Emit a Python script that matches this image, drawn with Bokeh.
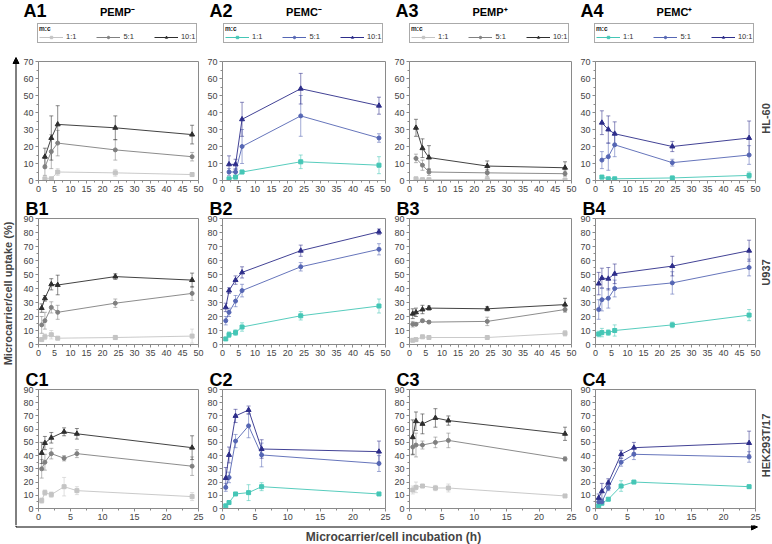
import math
from bokeh.plotting import figure
from bokeh.layouts import row, column
from bokeh.models import (Range1d, FixedTicker, Label, Legend, LegendItem, Whisker,
                          TeeHead, ColumnDataSource, Arrow, NormalHead)
from bokeh.embed import file_html
from bokeh.resources import INLINE

FONT = "Liberation Sans"
NAN = float("nan")

# ---------------- data ----------------
RATIOS = ["1:1", "5:1", "10:1"]
COLUMN_TITLES = ["PEMP\u207b", "PEMC\u207b", "PEMP\u207a", "PEMC\u207a"]
CELL_LINES = ["HL-60", "U937", "HEK293T/17"]
PANEL_LABELS = [["A1", "A2", "A3", "A4"], ["B1", "B2", "B3", "B4"], ["C1", "C2", "C3", "C4"]]

X_HL60 = [2, 4, 6, 24, 48]
X_U937 = [1, 2, 4, 6, 24, 48]
X_HEK = [0.5, 1, 2, 4, 6, 24]

X_TICKS_48 = [0, 5, 10, 15, 20, 25, 30, 35, 40, 45, 50]
X_TICKS_24 = [0, 5, 10, 15, 20, 25]
Y_TICKS_70 = [0, 10, 20, 30, 40, 50, 60, 70]
Y_TICKS_90 = [0, 10, 20, 30, 40, 50, 60, 70, 80, 90]

# HL-60 (row A): rows = 1:1, 5:1, 10:1
A1_MEAN = [[1, 1, 5, 4.5, 3.5], [8, 17, 22, 18, 14], [14, 25, 33, 31, 27]]
A1_SD = [[0.5, 0.5, 2, 2, 1], [5, 10, 7.5, 6, 2.5], [5, 13, 11, 7, 5.5]]
A2_MEAN = [[1, 2, 5, 11, 9], [5, 5, 20, 38, 25], [9.5, 9.5, 36, 54, 44]]
A2_SD = [[0.5, 1, 1, 4, 5], [2, 2, 10, 12, 2.5], [5, 3, 10, 9, 5]]
A3_MEAN = [[1, 0.5, 0.5, 0.5, 0.3], [13, 9, 5, 4.5, 4], [31, 19, 13.5, 8.5, 7.5]]
A3_SD = [[0.5, 0.3, 0.3, 0.3, 0.3], [2.5, 3, 2, 2, 1.5], [5, 5.5, 7, 3, 3.5]]
A4_MEAN = [[2, 1, 1, 1.5, 3], [12, 14, 21, 10.5, 15], [34, 30, 27.5, 20, 25]]
A4_SD = [[1, 0.5, 0.5, 1, 2], [5, 8, 7, 2, 5.5], [7, 8, 7, 3, 10]]

# U937 (row B)
B1_MEAN = [[3.5, 5.5, 7, 4.5, 5, 6], [14, 17, 26.5, 23, 29.5, 36.5], [26, 33, 43, 42.5, 48.5, 46]]
B1_SD = [[1, 2, 3, 1, 1.5, 5], [6, 6, 4, 5, 3, 5], [3, 2, 4, 7, 2, 5]]
B2_MEAN = [[4, 7, 8.5, 12.5, 20.5, 27.5], [17, 23, 31, 38.5, 55.5, 68], [26.5, 38.5, 46, 51.5, 67, 80.5]]
B2_SD = [[1, 2, 2, 3, 3, 5], [3, 3, 4, 4.5, 3, 4], [3, 2, 3, 4, 4, 2]]
B3_MEAN = [[3, 3.5, 5.5, 5, 5, 8], [14.5, 14.5, 17, 16, 16.5, 25], [22, 23, 25, 26, 25.5, 28.5]]
B3_SD = [[1, 1, 1, 1, 1, 2], [2, 1, 1, 1, 3, 2], [3.5, 3, 3, 1.5, 1.5, 4.5]]
B4_MEAN = [[7.5, 8.5, 8.5, 10, 14, 21], [25, 32, 33, 40, 44, 55], [43.5, 47.5, 47, 50.5, 56, 67]]
B4_SD = [[2, 3, 2, 4, 2, 4], [7, 8, 7, 6, 8, 6], [8, 7, 8, 7, 7, 7.5]]

# HEK293T/17 (row C)
C1_MEAN = [[6, 12, 10.5, 16.5, 13.5, 9], [30, 35, 41.5, 38, 41.5, 32], [42, 49.5, 53.5, 58, 56.5, 46]]
C1_SD = [[2, 2, 2, 7, 3, 3], [7, 6, 4, 2, 3, 7], [8, 5, 4, 3, 4, 9]]
C2_MEAN = [[2, 4.5, 11, 12, 16.5, 11], [16, 23.5, 51, 62.5, 40.5, 34], [23, 40.5, 70, 74.5, 45, 43]]
C2_SD = [[1, 1, 1, 6, 3, 1], [3, 4, 5, 9, 9, 6], [8, 6, 5, 3, 7, 8]]
C3_MEAN = [[14, 16, 17, 15.5, 15.5, 9.5], [46.5, 48, 48, 50, 51.5, 37.5], [54, 66, 64, 68.5, 66.5, 56.5]]
C3_SD = [[3, 4, 1, 2, 3, 1], [6, 9, 3, 4, 5.5, 1.5], [13, 7, 7.5, 7, 3.5, 5]]
C4_MEAN = [[2, 4, 7, 17, 20, 16.5], [5, 5, 15.5, 35, 41, 39], [8, 13, 19.5, 41, 46, 49.5]]
C4_SD = [[1, 1, 1, 4, 1, 1], [2, 2, 2, 3, 4, 4], [3, 6, 3, 3, 4, 9]]

# ---------------- styles / geometry ----------------
PEMP_COLORS = ["#c4c4c4", "#808080", "#2e2e2e"]
PEMC_COLORS = ["#45c6b6", "#5566b4", "#2d2d8a"]
MARKERS = ["square", "circle", "triangle"]
MARKER_SIZES = [4, 4, 5]

LEFT_W = 20
RIGHT_W = 11
COL_W = [184, 187, 186, 184]
LB = [16, 18, 17, 16]
RB = 6
GRID_W = sum(COL_W)          # 741
HEAD_H = 55
ROW_H = [141, 164, 165]
TB = [6, 21, 29]
BB = [16, 16, 17]
BOTTOM_H = 19
MAIN_H = HEAD_H + sum(ROW_H)  # 525


def colors_for(c):
    return PEMC_COLORS if c in (1, 3) else PEMP_COLORS


def make_panel(r, c, xs, means, sds, xmax, xticks, ymax, yticks):
    colors = colors_for(c)
    p = figure(width=COL_W[c], height=ROW_H[r],
               x_range=Range1d(0, xmax), y_range=Range1d(0, ymax),
               toolbar_location=None, output_backend="svg",
               min_border_left=LB[c], min_border_right=RB,
               min_border_top=TB[r], min_border_bottom=BB[r])
    if r > 0:
        p.title.text = PANEL_LABELS[r][c]
        p.title.align = "left"
        p.title.offset = -13
        p.title.standoff = 0
        p.title.text_font = FONT
        p.title.text_font_size = "18px"
        p.title.text_font_style = "bold"
        p.title.text_color = "black"
    p.grid.visible = False
    p.outline_line_color = "#8a8a8a"
    p.background_fill_color = "white"
    p.border_fill_color = "white"
    step = xticks[1] - xticks[0]
    p.xaxis.ticker = FixedTicker(ticks=xticks,
                                 minor_ticks=[t + step / 2 for t in xticks[:-1]])
    p.yaxis.ticker = FixedTicker(ticks=yticks,
                                 minor_ticks=[t + 5 for t in yticks[:-1]])
    for ax in (p.xaxis, p.yaxis):
        ax.axis_line_color = "#8a8a8a"
        ax.major_tick_line_color = "#8a8a8a"
        ax.minor_tick_line_color = "#8a8a8a"
        ax.major_tick_in = 0
        ax.major_tick_out = 3
        ax.minor_tick_in = 0
        ax.minor_tick_out = 2
        ax.major_label_standoff = 2
        ax.major_label_text_font = FONT
        ax.major_label_text_font_size = "9px"
        ax.major_label_text_color = "#444444"

    for i in range(3):
        y = means[i]
        e = sds[i]
        src = ColumnDataSource(dict(x=xs, y=y,
                                    lo=[max(0, a - b) for a, b in zip(y, e)],
                                    hi=[a + b for a, b in zip(y, e)]))
        col = colors[i]
        p.add_layout(Whisker(source=src, base="x", lower="lo", upper="hi",
                             line_color=col, line_alpha=0.55, line_width=1,
                             upper_head=TeeHead(size=4, line_color=col, line_alpha=0.55),
                             lower_head=TeeHead(size=4, line_color=col, line_alpha=0.55)))
        p.line("x", "y", source=src, line_color=col, line_width=1, line_alpha=0.9)
        p.scatter("x", "y", source=src, marker=MARKERS[i], size=MARKER_SIZES[i],
                  fill_color=col, line_color=col)
    return p


def strip(w, h):
    f = figure(width=w, height=h, x_range=Range1d(0, w), y_range=Range1d(0, h),
               toolbar_location=None, output_backend="svg",
               x_axis_location=None, y_axis_location=None, min_border=0)
    f.grid.visible = False
    f.outline_line_color = None
    f.background_fill_color = "white"
    f.border_fill_color = "white"
    return f


FRAME_LEFT = []
acc = 0
for c in range(4):
    FRAME_LEFT.append(acc + LB[c])
    acc += COL_W[c]
FRAME_W = [COL_W[c] - LB[c] - RB for c in range(4)]

# header strip above row A: panel labels, column titles, legends
head = strip(GRID_W, HEAD_H)
for c in range(4):
    head.add_layout(Label(x=FRAME_LEFT[c] - 13, y=HEAD_H - 10.5, text=PANEL_LABELS[0][c],
                          text_font=FONT, text_font_size="18px", text_font_style="bold",
                          text_color="black", text_baseline="middle"))
    head.add_layout(Label(x=FRAME_LEFT[c] + FRAME_W[c] / 2, y=HEAD_H - 11, text=COLUMN_TITLES[c],
                          text_font=FONT, text_font_size="11px", text_font_style="bold",
                          text_color="black", text_align="center", text_baseline="middle"))
    colors = colors_for(c)
    items = []
    for i in range(3):
        lr = head.line(x=[NAN], y=[NAN], line_color=colors[i], line_width=1)
        mr = head.scatter(x=[NAN], y=[NAN], marker=MARKERS[i], size=MARKER_SIZES[i],
                          fill_color=colors[i], line_color=colors[i])
        items.append(LegendItem(label=RATIOS[i], renderers=[lr, mr]))
    leg = Legend(items=items, orientation="horizontal",
                 location=(FRAME_LEFT[c] + 1, 12),
                 title="m:c", title_text_font=FONT, title_text_font_size="6.5px",
                 title_text_font_style="bold", title_text_color="#222222", title_standoff=0,
                 label_text_font=FONT, label_text_font_size="7.5px",
                 label_text_color="#333333",
                 label_height=6, label_width=10, glyph_height=6, glyph_width=24,
                 label_standoff=3, spacing=20, padding=1, margin=0,
                 border_line_color="#555555", border_line_width=1,
                 background_fill_color="white", background_fill_alpha=1)
    head.add_layout(leg, "center")

PANELS = [
    [(X_HL60, A1_MEAN, A1_SD), (X_HL60, A2_MEAN, A2_SD), (X_HL60, A3_MEAN, A3_SD), (X_HL60, A4_MEAN, A4_SD)],
    [(X_U937, B1_MEAN, B1_SD), (X_U937, B2_MEAN, B2_SD), (X_U937, B3_MEAN, B3_SD), (X_U937, B4_MEAN, B4_SD)],
    [(X_HEK, C1_MEAN, C1_SD), (X_HEK, C2_MEAN, C2_SD), (X_HEK, C3_MEAN, C3_SD), (X_HEK, C4_MEAN, C4_SD)],
]
AXES = [(50, X_TICKS_48, 70, Y_TICKS_70), (50, X_TICKS_48, 90, Y_TICKS_90), (25, X_TICKS_24, 90, Y_TICKS_90)]

blocks = [head]
for r in range(3):
    figs = []
    for c in range(4):
        xs, m, s = PANELS[r][c]
        xmax, xt, ymax, yt = AXES[r]
        figs.append(make_panel(r, c, xs, m, s, xmax, xt, ymax, yt))
    blocks.append(row(*figs))
grid = column(*blocks)

# left strip: y label + vertical arrow
ls = strip(LEFT_W, MAIN_H)
ls.add_layout(Arrow(end=NormalHead(size=6, fill_color="black", line_color="black"),
                    x_start=15.5, y_start=0, x_end=15.5, y_end=MAIN_H - 57,
                    line_color="black", line_width=1))
ls.add_layout(Label(x=7, y=MAIN_H - 293, text="Microcarrier/cell uptake (%)", angle=math.pi / 2,
                    text_font=FONT, text_font_size="11px", text_font_style="bold",
                    text_align="center", text_baseline="middle"))

# right strip: cell line labels
rs = strip(RIGHT_W, MAIN_H)
for name, yc in zip(CELL_LINES, [118, 272, 445]):
    rs.add_layout(Label(x=4.5, y=MAIN_H - yc, text=name, angle=math.pi / 2,
                        text_font=FONT, text_font_size="11px", text_font_style="bold",
                        text_align="center", text_baseline="middle"))

# bottom strip: horizontal arrow + x label
TOTAL_W = LEFT_W + GRID_W + RIGHT_W  # 772
bs = strip(TOTAL_W, BOTTOM_H)
bs.line(x=[15.5, 15.5], y=[BOTTOM_H, BOTTOM_H - 1.5], line_color="black", line_width=1)
bs.add_layout(Arrow(end=NormalHead(size=6, fill_color="black", line_color="black"),
                    x_start=15.5, y_start=BOTTOM_H - 1.5, x_end=757, y_end=BOTTOM_H - 1.5,
                    line_color="black", line_width=1))
bs.add_layout(Label(x=393, y=7.5, text="Microcarrier/cell incubation (h)",
                    text_font=FONT, text_font_size="12px", text_font_style="bold",
                    text_align="center", text_baseline="middle"))

layout = column(row(ls, grid, rs), bs)

open("out.html", "w").write(file_html(layout, INLINE))
